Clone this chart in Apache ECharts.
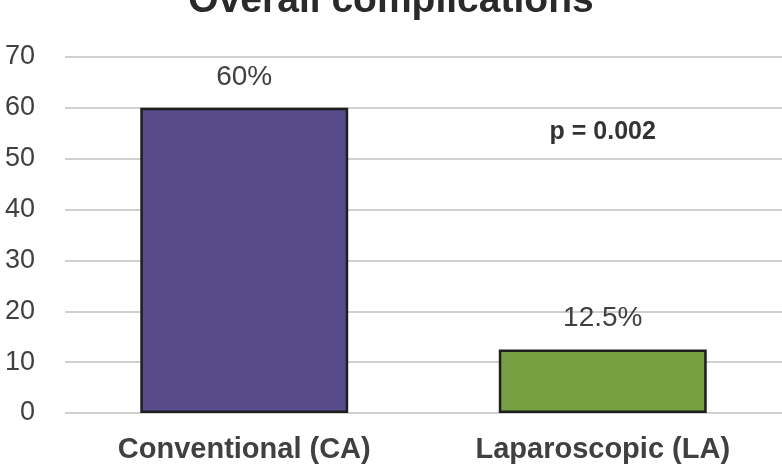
<!DOCTYPE html>
<html><head><meta charset="utf-8">
<script src="https://cdn.jsdelivr.net/npm/echarts@6/dist/echarts.min.js"></script>
<style>html,body{margin:0;padding:0;background:#fff}#c{width:782px;height:471px}</style>
</head><body><div id="c"></div>
<script>
var categories = ['Conventional (CA)', 'Laparoscopic (LA)'];
var values = [60, 12.5];
var valueLabels = ['60%', '12.5%'];
var barColors = ['#574b8a', '#77a043'];
var yTicks = [0, 10, 20, 30, 40, 50, 60, 70];
var title = 'Overall complications';
var pText = 'p = 0.002';
var pPosition = [1, 55.3];

var chart = echarts.init(document.getElementById('c'));
chart.setOption({
  animation: false,
  title: {
    text: title, left: 'center', top: -23,
    textStyle: {fontFamily: 'Liberation Sans', fontWeight: 'bold', fontSize: 39, color: '#2a2a2a'}
  },
  grid: {left: 65, right: 0, top: 57, bottom: 58},
  xAxis: {
    type: 'category', data: categories,
    axisLine: {show: false}, axisTick: {show: false},
    axisLabel: {fontFamily: 'Liberation Sans', fontWeight: 'bold', fontSize: 29, color: '#404040', margin: 22}
  },
  yAxis: {
    type: 'value', min: yTicks[0], max: yTicks[yTicks.length - 1], interval: 10,
    axisLabel: {fontFamily: 'Liberation Sans', fontSize: 27, color: '#404040', margin: 30},
    splitLine: {lineStyle: {color: '#d0d0d0', width: 2}},
    axisLine: {show: false}, axisTick: {show: false}
  },
  series: [{
    type: 'bar', barWidth: '58%',
    data: values.map(function (v, i) {
      return {value: v, itemStyle: {color: barColors[i]},
        label: {formatter: valueLabels[i]}};
    }),
    itemStyle: {borderColor: '#1e1e1e', borderWidth: 2.5},
    label: {show: true, position: 'top', distance: 17,
      fontFamily: 'Liberation Sans', fontSize: 28, color: '#404040'},
    markPoint: {
      symbol: 'rect', symbolSize: 1,
      itemStyle: {color: 'rgba(0,0,0,0)'},
      label: {show: true, position: 'inside', formatter: pText, fontFamily: 'Liberation Sans', fontWeight: 'bold', fontSize: 25, color: '#333333'},
      data: [{coord: pPosition}]
    }
  }]
});
</script></body></html>
